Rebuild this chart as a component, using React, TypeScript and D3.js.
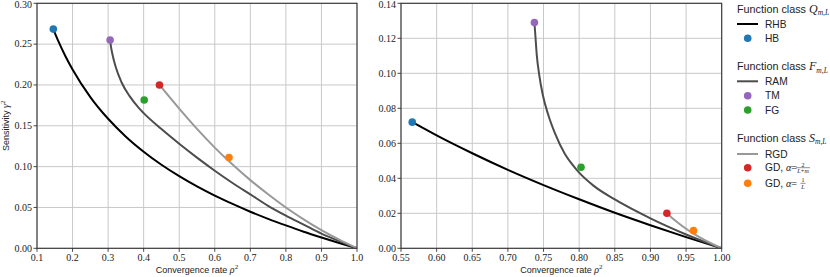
import React from "react";
import * as d3 from "d3";

// tick values
const rhoTicksLeft = [0.1, 0.2, 0.3, 0.4, 0.5, 0.6, 0.7, 0.8, 0.9, 1.0];
const gammaTicksLeft = [0, 0.05, 0.1, 0.15, 0.2, 0.25, 0.3];
const rhoTicksRight = [0.55, 0.6, 0.65, 0.7, 0.75, 0.8, 0.85, 0.9, 0.95, 1.0];
const gammaTicksRight = [0, 0.02, 0.04, 0.06, 0.08, 0.1, 0.12, 0.14];

// curves, [rho^2, gamma^2], left panel
const rhbLeft: [number, number][] = [
  [0.146, 0.268], [0.16, 0.2536], [0.18, 0.2351], [0.2, 0.2189], [0.25, 0.1852],
  [0.3, 0.1586], [0.35, 0.1367], [0.4, 0.1183], [0.45, 0.1023], [0.5, 0.0883],
  [0.55, 0.0758], [0.6, 0.0645], [0.65, 0.0543], [0.7, 0.0448], [0.75, 0.0361],
  [0.8, 0.028], [0.85, 0.0203], [0.9, 0.0132], [0.95, 0.0064], [1.0, 0],
];
const ramLeft: [number, number][] = [
  [0.3056, 0.255], [0.308, 0.247], [0.312, 0.238], [0.321, 0.2225], [0.338, 0.203],
  [0.361, 0.186], [0.385, 0.1725], [0.4, 0.1655], [0.45, 0.146], [0.5, 0.128],
  [0.55, 0.111], [0.6, 0.095], [0.65, 0.08], [0.7, 0.066], [0.75, 0.052],
  [0.8, 0.04], [0.85, 0.029], [0.9, 0.018], [0.95, 0.0088], [1.0, 0],
];
const rgdLeft: [number, number][] = [
  [0.4444, 0.2], [0.5, 0.171], [0.55, 0.1462], [0.6, 0.1233], [0.65, 0.1025],
  [0.7, 0.0835], [0.75, 0.0662], [0.8, 0.05], [0.85, 0.0355], [0.9, 0.0222],
  [0.95, 0.0105], [1.0, 0],
];

// curves, right panel
const rhbRight: [number, number][] = [
  [0.5658, 0.0721], [0.58, 0.0689], [0.6, 0.0645], [0.65, 0.0543], [0.7, 0.0448],
  [0.75, 0.0361], [0.8, 0.028], [0.85, 0.0203], [0.9, 0.0132], [0.95, 0.0064], [1.0, 0],
];
const ramRight: [number, number][] = [
  [0.7372, 0.129], [0.7385, 0.1219], [0.7405, 0.1105], [0.744, 0.099], [0.749, 0.0876],
  [0.7567, 0.0762], [0.7661, 0.0657], [0.78, 0.0539], [0.79, 0.0481], [0.8, 0.0432],
  [0.82, 0.0358], [0.85, 0.0279], [0.9, 0.0171], [0.95, 0.0079], [1.0, 0],
];
const rgdRight: [number, number][] = [
  [0.9231, 0.02], [0.93, 0.0175], [0.94, 0.0142], [0.95, 0.0112], [0.96, 0.0085],
  [0.97, 0.0061], [0.98, 0.0039], [0.99, 0.0019], [1.0, 0],
];

// single methods
const methods = ["HB", "TM", "FG", "GD2", "GD1"];
const methodsLeft: [number, number][] = [
  [0.1459, 0.2684], [0.3056, 0.255], [0.4015, 0.1816], [0.4444, 0.2], [0.64, 0.1111],
];
const methodsRight: [number, number][] = [
  [0.5658, 0.0721], [0.7372, 0.129], [0.8026, 0.0463], [0.9231, 0.02], [0.9604, 0.0101],
];

const dotColor: Record<string, string> = {
  HB: "#1f77b4", TM: "#9467bd", FG: "#2ca02c", GD2: "#d62728", GD1: "#ff7f0e",
};
const C_RHB = "#000000";
const C_RAM = "#4d4d4d";
const C_RGD = "#999999";

const SERIF = "'Liberation Serif', 'DejaVu Serif', serif";
const SANS = "'Liberation Sans', Arial, sans-serif";

type PanelProps = {
  id: string;
  xDomain: [number, number];
  yDomain: [number, number];
  xRange: [number, number];
  yRange: [number, number];
  xTicks: number[];
  yTicks: number[];
  xFmt: (n: number) => string;
  curves: { data: [number, number][]; color: string }[];
  dots: [number, number][];
  yLabel?: boolean;
};

function Panel(p: PanelProps) {
  const x = d3.scaleLinear().domain(p.xDomain).range(p.xRange);
  const y = d3.scaleLinear().domain(p.yDomain).range(p.yRange);
  const line = d3
    .line<[number, number]>()
    .x((d) => x(d[0]))
    .y((d) => y(d[1]))
    .curve(d3.curveMonotoneX);
  const [x0, x1] = p.xRange;
  const [yb, yt] = p.yRange;
  const fy = d3.format(".2f");
  return (
    <g>
      <defs>
        <clipPath id={p.id}>
          <rect x={x0} y={yt} width={x1 - x0} height={yb - yt} />
        </clipPath>
      </defs>
      {p.xTicks.map((t) => (
        <line key={"gx" + t} x1={x(t)} x2={x(t)} y1={yt} y2={yb} stroke="#c8c8c8" strokeWidth={1} />
      ))}
      {p.yTicks.map((t) => (
        <line key={"gy" + t} x1={x0} x2={x1} y1={y(t)} y2={y(t)} stroke="#c8c8c8" strokeWidth={1} />
      ))}
      <g clipPath={`url(#${p.id})`}>
        {p.curves.map((c, i) => (
          <path key={i} d={line(c.data) || ""} fill="none" stroke={c.color} strokeWidth={2} />
        ))}
      </g>
      {p.dots.map((d, i) => (
        <circle key={i} cx={x(d[0])} cy={y(d[1])} r={3.8} fill={dotColor[methods[i]]} />
      ))}
      <rect x={x0} y={yt} width={x1 - x0} height={yb - yt} fill="none" stroke="#333" strokeWidth={1.1} />
      {p.xTicks.map((t) => (
        <g key={"tx" + t}>
          <line x1={x(t)} x2={x(t)} y1={yb} y2={yb + 3.5} stroke="#333" strokeWidth={0.9} />
          <text x={x(t)} y={yb + 13} textAnchor="middle" fontFamily={SERIF} fontSize={10} fill="#222">
            {p.xFmt(t)}
          </text>
        </g>
      ))}
      {p.yTicks.map((t) => (
        <g key={"ty" + t}>
          <line x1={x0 - 3.5} x2={x0} y1={y(t)} y2={y(t)} stroke="#333" strokeWidth={0.9} />
          <text x={x0 - 5} y={Math.max(y(t) + 3.3, 8)} textAnchor="end" fontFamily={SERIF} fontSize={10} fill="#222">
            {fy(t)}
          </text>
        </g>
      ))}
      <text x={(x0 + x1) / 2} y={273} textAnchor="middle" fontFamily={SANS} fontSize={9} fill="#222">
        Convergence rate <tspan fontFamily={SERIF} fontStyle="italic" fontSize={10}>ρ</tspan>
        <tspan fontFamily={SERIF} fontSize={7} dy={-4}>2</tspan>
      </text>
      {p.yLabel && (
        <text transform={`translate(9,${(yb + yt) / 2}) rotate(-90)`} textAnchor="middle" fontFamily={SANS} fontSize={9} fill="#222">
          Sensitivity <tspan fontFamily={SERIF} fontStyle="italic" fontSize={10}>γ</tspan>
          <tspan fontFamily={SERIF} fontSize={7} dy={-4}>2</tspan>
        </text>
      )}
    </g>
  );
}

function Title({ y, letter }: { y: number; letter: string }) {
  return (
    <text x={737} y={y} fontFamily={SANS} fontSize={10.8} fill="#222">
      Function class{" "}
      <tspan fontFamily={SERIF} fontStyle="italic" fontSize={12}>{letter}</tspan>
      <tspan fontFamily={SERIF} fontStyle="italic" fontSize={7.5} dy={2.5}>m,L</tspan>
    </text>
  );
}

function Legend() {
  const lx0 = 737, lx1 = 758, mx = 747.7, tx = 765;
  const label = (y: number, s: string) => (
    <text x={tx} y={y + 3.6} fontFamily={SANS} fontSize={10.2} fill="#222">{s}</text>
  );
  const lineItem = (y: number, color: string, s: string) => (
    <g>
      <line x1={lx0} x2={lx1} y1={y} y2={y} stroke={color} strokeWidth={2} />
      {label(y, s)}
    </g>
  );
  const dotItem = (y: number, key: string, s: string) => (
    <g>
      <circle cx={mx} cy={y} r={3.8} fill={dotColor[key]} />
      {label(y, s)}
    </g>
  );
  const gdItem = (y: number, key: string, num: string, den: string) => (
    <g>
      <circle cx={mx} cy={y} r={3.8} fill={dotColor[key]} />
      <text x={tx} y={y + 3.6} fontFamily={SANS} fontSize={10.2} fill="#222">
        GD, <tspan fontFamily={SERIF} fontStyle="italic">α</tspan>
        <tspan fontFamily={SERIF}>=</tspan>
      </text>
      <text x={803} y={y - 1.2} textAnchor="middle" fontFamily={SERIF} fontSize={6} fill="#222">{num}</text>
      <line x1={803 - (den.length > 1 ? 7 : 2.5)} x2={803 + (den.length > 1 ? 7 : 2.5)} y1={y} y2={y} stroke="#222" strokeWidth={0.5} />
      <text x={803} y={y + 5.5} textAnchor="middle" fontFamily={SERIF} fontStyle="italic" fontSize={6} fill="#222">{den}</text>
    </g>
  );
  return (
    <g>
      <Title y={12.5} letter="Q" />
      {lineItem(24, C_RHB, "RHB")}
      {dotItem(38.3, "HB", "HB")}
      <Title y={70} letter="F" />
      {lineItem(81.3, C_RAM, "RAM")}
      {dotItem(95.7, "TM", "TM")}
      {dotItem(110, "FG", "FG")}
      <Title y={141.5} letter="S" />
      {lineItem(154, C_RGD, "RGD")}
      {gdItem(167.7, "GD2", "2", "L+m")}
      {gdItem(183.3, "GD1", "1", "L")}
    </g>
  );
}

export default function App() {
  return (
    <svg width={830} height={277} style={{ position: "absolute", left: 0, top: 0, background: "#fff" }}>
      <Panel
        id="clipL"
        xDomain={[0.1, 1.0]}
        yDomain={[0, 0.3]}
        xRange={[37, 357]}
        yRange={[248.3, 3.3]}
        xTicks={rhoTicksLeft}
        yTicks={gammaTicksLeft}
        xFmt={d3.format(".1f")}
        curves={[
          { data: rhbLeft, color: C_RHB },
          { data: ramLeft, color: C_RAM },
          { data: rgdLeft, color: C_RGD },
        ]}
        dots={methodsLeft}
        yLabel
      />
      <Panel
        id="clipR"
        xDomain={[0.55, 1.0]}
        yDomain={[0, 0.14]}
        xRange={[401, 721.7]}
        yRange={[248.3, 3.3]}
        xTicks={rhoTicksRight}
        yTicks={gammaTicksRight}
        xFmt={d3.format(".2f")}
        curves={[
          { data: rhbRight, color: C_RHB },
          { data: ramRight, color: C_RAM },
          { data: rgdRight, color: C_RGD },
        ]}
        dots={methodsRight}
      />
      <Legend />
    </svg>
  );
}
